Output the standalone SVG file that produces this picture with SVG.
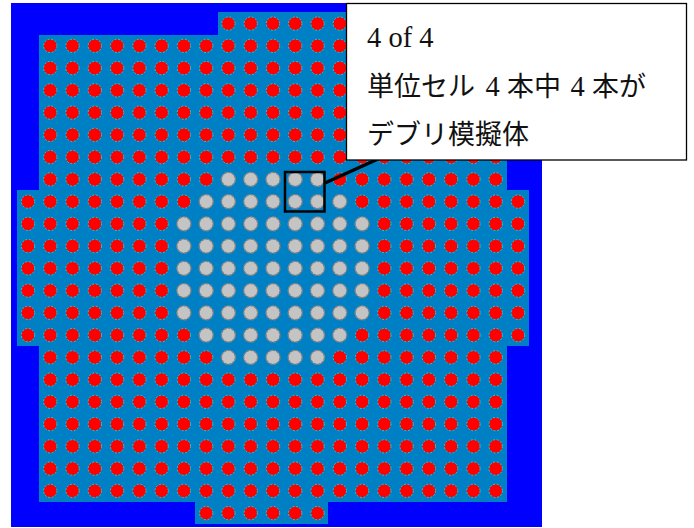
<svg xmlns="http://www.w3.org/2000/svg" width="694" height="528" viewBox="0 0 694 528">
<style>
.r{fill:#ff0000;stroke:#00dcec;stroke-width:1;stroke-dasharray:1.8 1.8}
.g{fill:#c4c4c4;stroke:#828282;stroke-width:1.4;stroke-dasharray:3 1}
.t{font-family:"Liberation Serif","Noto Sans CJK JP",serif;font-size:27px;fill:#111111}
.n{font-size:28.5px}
</style>
<defs>
<circle id="R" class="r" r="6.7"/>
<circle id="G" class="g" r="7"/>
<g id="left1"><use href="#R" x="50.3"/><use href="#R" x="72.5"/><use href="#R" x="94.8"/><use href="#R" x="117.1"/><use href="#R" x="139.4"/><use href="#R" x="161.6"/></g>
<g id="right1"><use href="#R" x="384.3"/><use href="#R" x="406.6"/><use href="#R" x="428.9"/><use href="#R" x="451.1"/><use href="#R" x="473.4"/><use href="#R" x="495.7"/></g>
<g id="A"><use href="#left1"/><use href="#R" x="183.9"/><use href="#R" x="206.2"/><use href="#R" x="228.4"/><use href="#R" x="250.7"/><use href="#R" x="273"/><use href="#R" x="295.2"/><use href="#R" x="317.5"/><use href="#R" x="339.8"/><use href="#R" x="362.1"/><use href="#right1"/></g>
<g id="B"><use href="#left1"/><use href="#R" x="183.9"/><use href="#R" x="206.2"/><use href="#G" x="228.4"/><use href="#G" x="250.7"/><use href="#G" x="273"/><use href="#G" x="295.2"/><use href="#G" x="317.5"/><use href="#R" x="339.8"/><use href="#R" x="362.1"/><use href="#right1"/></g>
<g id="C"><use href="#R" x="28"/><use href="#left1"/><use href="#R" x="183.9"/><use href="#G" x="206.2"/><use href="#G" x="228.4"/><use href="#G" x="250.7"/><use href="#G" x="273"/><use href="#G" x="295.2"/><use href="#G" x="317.5"/><use href="#G" x="339.8"/><use href="#R" x="362.1"/><use href="#right1"/><use href="#R" x="518"/></g>
<g id="D"><use href="#R" x="28"/><use href="#left1"/><use href="#G" x="183.9"/><use href="#G" x="206.2"/><use href="#G" x="228.4"/><use href="#G" x="250.7"/><use href="#G" x="273"/><use href="#G" x="295.2"/><use href="#G" x="317.5"/><use href="#G" x="339.8"/><use href="#G" x="362.1"/><use href="#right1"/><use href="#R" x="518"/></g>
</defs>
<rect width="694" height="528" fill="#ffffff"/>
<rect x="11" y="3" width="531" height="524" fill="#0000ff"/>
<path d="M218 12H350V35H507V190H529V346H507V502H328V524H195V502H39V346H17V190H39V35H218Z" fill="#0080c4"/>
<g id="rods">
<g transform="translate(0,23.6)"><use href="#R" x="228.4"/><use href="#R" x="250.7"/><use href="#R" x="273"/><use href="#R" x="295.2"/><use href="#R" x="317.5"/><use href="#R" x="339.8"/></g>
<use href="#A" y="45.85"/><use href="#A" y="68.1"/><use href="#A" y="90.35"/><use href="#A" y="112.6"/><use href="#A" y="134.85"/><use href="#A" y="157.1"/>
<use href="#B" y="179.35"/><use href="#C" y="201.6"/>
<use href="#D" y="223.85"/><use href="#D" y="246.1"/><use href="#D" y="268.35"/><use href="#D" y="290.6"/><use href="#D" y="312.85"/>
<use href="#C" y="335.1"/><use href="#B" y="357.35"/>
<use href="#A" y="379.6"/><use href="#A" y="401.85"/><use href="#A" y="424.1"/><use href="#A" y="446.35"/><use href="#A" y="468.6"/><use href="#A" y="490.85"/>
<g transform="translate(0,513.1)"><use href="#R" x="206.2"/><use href="#R" x="228.4"/><use href="#R" x="250.7"/><use href="#R" x="273"/><use href="#R" x="295.2"/><use href="#R" x="317.5"/></g>
</g>
<g id="connectors"><line x1="325" y1="183" x2="378" y2="159" stroke="#000" stroke-width="3.4"/></g>
<g id="unit-cell"><rect x="285" y="172" width="39.5" height="39.5" fill="none" stroke="#000" stroke-width="2.5"/></g>
<g id="callout">
<rect x="346.5" y="3.5" width="340" height="156.5" fill="#fff" stroke="#000" stroke-width="1.3"/>
<text class="t n" x="367" y="47">4 of 4</text>
<text class="t" y="95.5"><tspan x="367">単位セル</tspan><tspan class="n" x="485.5">4</tspan><tspan x="507">本中</tspan><tspan class="n" x="570.5">4</tspan><tspan x="592">本が</tspan></text>
<text class="t" x="367" y="143.5">デブリ模擬体</text>
</g>
</svg>
